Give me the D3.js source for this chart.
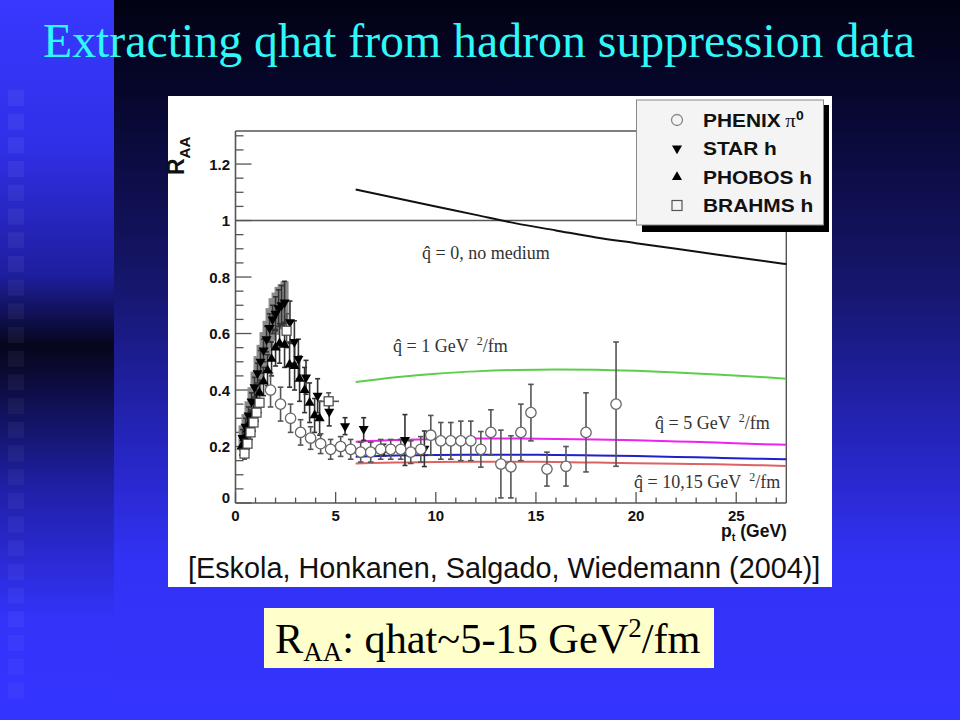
<!DOCTYPE html>
<html><head><meta charset="utf-8">
<script src="https://cdn.jsdelivr.net/npm/d3@7"></script>
<style>html,body{margin:0;padding:0;background:#000;}svg{display:block;}</style>
</head><body>
<svg id="c" width="960" height="720"></svg>
<script>
// ---------- data ----------
const titleText = "Extracting qhat from hadron suppression data";
const xTicks = [0, 5, 10, 15, 20, 25];
const yTicks = [0, 0.2, 0.4, 0.6, 0.8, 1, 1.2];
const yTickLabels = ["0", "0.2", "0.4", "0.6", "0.8", "1", "1.2"];

const curvePt   = [6, 8, 10, 12, 14, 16, 18, 20, 22, 24, 26, 27.5];
const noMedium  = [1.11, 1.08, 1.05, 1.02, 0.99, 0.965, 0.94, 0.92, 0.90, 0.88, 0.86, 0.846];
const qhat1     = [0.428, 0.445, 0.458, 0.466, 0.471, 0.473, 0.472, 0.468, 0.462, 0.455, 0.447, 0.440];
const qhat5     = [0.217, 0.223, 0.226, 0.228, 0.228, 0.227, 0.225, 0.222, 0.218, 0.214, 0.209, 0.206];
const qhat10    = [0.164, 0.168, 0.170, 0.171, 0.171, 0.170, 0.168, 0.166, 0.163, 0.160, 0.157, 0.155];
const qhat15    = [0.140, 0.143, 0.145, 0.146, 0.146, 0.145, 0.143, 0.141, 0.139, 0.137, 0.134, 0.131];

const phenixPt  = [1.75, 2.25, 2.75, 3.25, 3.75, 4.25, 4.75, 5.25, 5.75, 6.25, 6.75, 7.25, 7.75, 8.25, 8.75, 9.25, 9.75, 10.25, 10.75, 11.25, 11.75, 12.25, 12.75, 13.25, 13.75, 14.25, 14.75, 15.55, 16.5, 17.5, 19.0];
const phenixR   = [0.40, 0.35, 0.30, 0.25, 0.23, 0.21, 0.19, 0.20, 0.19, 0.18, 0.18, 0.19, 0.19, 0.19, 0.18, 0.19, 0.24, 0.22, 0.22, 0.22, 0.22, 0.19, 0.25, 0.138, 0.128, 0.25, 0.32, 0.12, 0.13, 0.25, 0.35];
const phenixErr = [0.06, 0.06, 0.05, 0.045, 0.04, 0.035, 0.035, 0.035, 0.035, 0.035, 0.035, 0.035, 0.035, 0.035, 0.04, 0.045, 0.07, 0.065, 0.065, 0.07, 0.07, 0.063, 0.08, 0.12, 0.11, 0.10, 0.10, 0.06, 0.07, 0.14, 0.22];

const starPt    = [0.35, 0.5, 0.65, 0.8, 0.95, 1.1, 1.25, 1.4, 1.55, 1.7, 1.85, 2.0, 2.15, 2.3, 2.45, 2.72, 2.94, 3.14, 3.52, 4.1, 4.68, 5.47, 6.4, 7.41, 8.46, 9.43];
const starR     = [0.23, 0.27, 0.31, 0.36, 0.41, 0.46, 0.50, 0.54, 0.58, 0.62, 0.65, 0.67, 0.69, 0.70, 0.71, 0.64, 0.57, 0.51, 0.445, 0.38, 0.323, 0.272, 0.262, 0.188, 0.223, 0.192];
const starErr   = [0.03, 0.03, 0.03, 0.03, 0.035, 0.035, 0.04, 0.04, 0.045, 0.05, 0.05, 0.06, 0.065, 0.07, 0.075, 0.075, 0.075, 0.07, 0.06, 0.06, 0.05, 0.03, 0.04, 0.02, 0.09, 0.063];
const starSys   = [0.045, 0.045, 0.05, 0.05, 0.055, 0.06, 0.06, 0.065, 0.065, 0.07, 0.075, 0.075, 0.075, 0.075, 0.075, 0, 0, 0, 0, 0, 0, 0, 0, 0, 0, 0];

const phobosPt  = [0.3, 0.45, 0.6, 0.75, 0.9, 1.05, 1.2, 1.4, 1.6, 1.8, 2.0, 2.2, 2.45, 2.7, 2.95, 3.2, 3.45, 3.7, 3.95, 4.2];
const phobosR   = [0.20, 0.23, 0.26, 0.29, 0.32, 0.36, 0.39, 0.43, 0.47, 0.51, 0.55, 0.565, 0.56, 0.49, 0.485, 0.44, 0.40, 0.355, 0.31, 0.30];
const phobosErr = [0.03, 0.03, 0.035, 0.035, 0.04, 0.04, 0.045, 0.05, 0.055, 0.06, 0.065, 0.07, 0.08, 0.08, 0.085, 0.08, 0.08, 0.07, 0.06, 0.06];

const brahmsPt  = [0.45, 0.6, 0.75, 0.9, 1.05, 1.2, 2.55, 4.65];
const brahmsR   = [0.175, 0.21, 0.25, 0.285, 0.32, 0.355, 0.61, 0.36];
const brahmsErr = [0.02, 0.02, 0.025, 0.03, 0.03, 0.035, 0.06, 0.03];
const brahmsPtErr = [0, 0, 0, 0, 0, 0, 0, 0.52];

const legendLabels = ["PHENIX", "STAR h", "PHOBOS h", "BRAHMS h"];

// ---------- drawing ----------
const svg = d3.select("#c");
const defs = svg.append("defs");

const gR = defs.append("linearGradient").attr("id", "bgR").attr("x1", 0).attr("y1", 0).attr("x2", 0).attr("y2", 1);
[[0, "#020214"], [0.12, "#06062a"], [0.4, "#16166e"], [0.62, "#2525bf"], [0.78, "#3232f6"], [1, "#3434ff"]]
  .forEach(s => gR.append("stop").attr("offset", s[0]).attr("stop-color", s[1]));
const gL = defs.append("linearGradient").attr("id", "bgL").attr("x1", 0).attr("y1", 0).attr("x2", 0).attr("y2", 1);
[[0, "#3838ff"], [0.2, "#3030e8"], [0.38, "#1e1ea0"], [0.48, "#06061c"], [0.52, "#0a0a36"], [0.68, "#2020a8"], [0.86, "#3333fa"], [1, "#3434ff"]]
  .forEach(s => gL.append("stop").attr("offset", s[0]).attr("stop-color", s[1]));

svg.append("rect").attr("x", 0).attr("y", 0).attr("width", 960).attr("height", 720).attr("fill", "url(#bgR)");
svg.append("rect").attr("x", 0).attr("y", 0).attr("width", 114).attr("height", 720).attr("fill", "url(#bgL)");

const sqY = d3.range(90, 690, 23.7);
svg.append("g").selectAll("rect").data(sqY).join("rect")
  .attr("x", 8).attr("y", d => d).attr("width", 16).attr("height", 16)
  .attr("fill", "#ffffff").attr("opacity", (d, i) => 0.055 - i * 0.0008);

// title
svg.append("text").attr("x", 43).attr("y", 57)
  .attr("font-family", "Liberation Serif, Times New Roman, serif").attr("font-size", 47.8)
  .attr("fill", "#2ff8f8").text(titleText);

// panel
svg.append("rect").attr("x", 168).attr("y", 96).attr("width", 664).attr("height", 491).attr("fill", "#ffffff");

const x = d3.scaleLinear().domain([0, 27.5]).range([235.5, 786.3]);
const y = d3.scaleLinear().domain([0, 1.317]).range([503, 131]);
const axisCol = "#555";
const g = svg.append("g");

// frame
g.append("line").attr("x1", x(0)).attr("x2", x(27.5)).attr("y1", y(0)).attr("y2", y(0)).attr("stroke", axisCol).attr("stroke-width", 1.6);
g.append("line").attr("x1", x(0)).attr("x2", x(0)).attr("y1", y(0)).attr("y2", y(1.317)).attr("stroke", axisCol).attr("stroke-width", 1.6);
g.append("line").attr("x1", x(0)).attr("x2", 640).attr("y1", y(1.317)).attr("y2", y(1.317)).attr("stroke", axisCol).attr("stroke-width", 1.4);
g.append("line").attr("x1", x(27.5)).attr("x2", x(27.5)).attr("y1", 228).attr("y2", y(0)).attr("stroke", axisCol).attr("stroke-width", 1.4);
g.append("line").attr("x1", x(0)).attr("x2", 640).attr("y1", y(1)).attr("y2", y(1)).attr("stroke", axisCol).attr("stroke-width", 1.4);

// y ticks
const yMinor = d3.range(0, 1.3001, 0.05);
g.append("g").selectAll("line").data(yMinor).join("line")
  .attr("x1", x(0)).attr("x2", (d, i) => x(0) + (i % 4 === 0 ? 16 : 8))
  .attr("y1", d => y(d)).attr("y2", d => y(d)).attr("stroke", axisCol).attr("stroke-width", 1.3);
g.append("g").selectAll("text").data(yTicks).join("text")
  .attr("x", 230).attr("y", (d, i) => y(d) + (i === 0 ? 0 : 5.5)).attr("text-anchor", "end")
  .attr("font-family", "Liberation Sans, Arial, sans-serif").attr("font-weight", "bold").attr("font-size", 15)
  .attr("fill", "#111").text((d, i) => yTickLabels[i]);

// x ticks
const xMinor = d3.range(0, 28, 1);
g.append("g").selectAll("line").data(xMinor).join("line")
  .attr("x1", d => x(d)).attr("x2", d => x(d))
  .attr("y1", y(0)).attr("y2", d => y(0) - (d % 5 === 0 ? 11 : 5.5)).attr("stroke", axisCol).attr("stroke-width", 1.3);
g.append("g").selectAll("text").data(xTicks).join("text")
  .attr("x", d => x(d)).attr("y", 521).attr("text-anchor", "middle")
  .attr("font-family", "Liberation Sans, Arial, sans-serif").attr("font-weight", "bold").attr("font-size", 15)
  .attr("fill", "#111").text(d => d);

// axis titles
const yt = g.append("text").attr("transform", "translate(184,175) rotate(-90)")
  .attr("font-family", "Liberation Sans, Arial, sans-serif").attr("font-weight", "bold").attr("fill", "#111");
yt.append("tspan").attr("font-size", 23).text("R");
yt.append("tspan").attr("font-size", 15).attr("dy", 6).text("AA");

const xt = g.append("text").attr("x", 721).attr("y", 537)
  .attr("font-family", "Liberation Sans, Arial, sans-serif").attr("font-weight", "bold").attr("fill", "#111").attr("font-size", 17.5);
xt.append("tspan").text("p");
xt.append("tspan").attr("font-size", 11).attr("dy", 4).text("t");
xt.append("tspan").attr("dy", -4).text(" (GeV)");

// curves
const line = d3.line().x(d => x(d[0])).y(d => y(d[1])).curve(d3.curveMonotoneX);
const curves = [[noMedium, "#111111"], [qhat1, "#5ccf4a"], [qhat5, "#ee22ee"], [qhat10, "#1f1fcc"], [qhat15, "#dd6262"]];
curves.forEach(c => {
  g.append("path").attr("d", line(curvePt.map((p, i) => [p, c[0][i]])))
    .attr("fill", "none").attr("stroke", c[1]).attr("stroke-width", 2);
});

// curve labels
function qLabel(px, py, rest, sup) {
  const t = g.append("text").attr("x", px).attr("y", py)
    .attr("font-family", "Liberation Serif, Times New Roman, serif").attr("font-size", 18).attr("fill", "#333");
  t.append("tspan").text("q\u0302 = " + rest);
  if (sup) {
    t.append("tspan").attr("font-size", 12).attr("dx", 4).attr("dy", -7).text("2");
    t.append("tspan").attr("dy", 7).text("/fm");
  }
}
qLabel(422, 259, "0, no medium", false);
qLabel(393, 352, "1 GeV ", true);
qLabel(655, 429, "5 GeV ", true);
qLabel(634, 488, "10,15 GeV ", true);

// error bar helper
function errBars(pts, rs, es, col, cap) {
  const d = pts.map((p, i) => ({ p, r: rs[i], e: es[i] }));
  const eg = g.append("g").attr("stroke", col).attr("stroke-width", 1.6);
  eg.selectAll("line.v").data(d).join("line").attr("class", "v")
    .attr("x1", e => x(e.p)).attr("x2", e => x(e.p)).attr("y1", e => y(e.r - e.e)).attr("y2", e => y(e.r + e.e));
  [-1, 1].forEach(s => {
    eg.selectAll("line.c" + (s + 1)).data(d).join("line").attr("class", "c" + (s + 1))
      .attr("x1", e => x(e.p) - cap).attr("x2", e => x(e.p) + cap)
      .attr("y1", e => y(e.r + s * e.e)).attr("y2", e => y(e.r + s * e.e));
  });
}

// STAR systematic boxes
g.append("g").selectAll("rect").data(starPt.map((p, i) => ({ p, r: starR[i], s: starSys[i] })).filter(d => d.s > 0))
  .join("rect").attr("x", d => x(d.p) - 4).attr("width", 8)
  .attr("y", d => y(d.r + d.s)).attr("height", d => y(d.r - d.s) - y(d.r + d.s))
  .attr("fill", "#8a8a8a");

errBars(phobosPt, phobosR, phobosErr, "#333", 2.5);
errBars(starPt, starR, starErr, "#333", 2.5);
errBars(phenixPt, phenixR, phenixErr, "#555", 2.8);
errBars(brahmsPt, brahmsR, brahmsErr, "#555", 2.5);
// BRAHMS horizontal errors
g.append("g").selectAll("line").data(brahmsPt.map((p, i) => ({ p, r: brahmsR[i], e: brahmsPtErr[i] })).filter(d => d.e > 0))
  .join("line").attr("x1", d => x(d.p - d.e)).attr("x2", d => x(d.p + d.e))
  .attr("y1", d => y(d.r)).attr("y2", d => y(d.r)).attr("stroke", "#555").attr("stroke-width", 1.6);

const tri = d3.symbol().type(d3.symbolTriangle).size(44);
// PHOBOS up triangles
g.append("g").selectAll("path").data(phobosPt.map((p, i) => [p, phobosR[i]])).join("path")
  .attr("d", tri).attr("transform", d => `translate(${x(d[0])},${y(d[1])})`).attr("fill", "#000");
// STAR down triangles
g.append("g").selectAll("path").data(starPt.map((p, i) => [p, starR[i]])).join("path")
  .attr("d", tri).attr("transform", d => `translate(${x(d[0])},${y(d[1])}) rotate(180)`).attr("fill", "#000");
// PHENIX circles
g.append("g").selectAll("circle").data(phenixPt.map((p, i) => [p, phenixR[i]])).join("circle")
  .attr("cx", d => x(d[0])).attr("cy", d => y(d[1])).attr("r", 5.2)
  .attr("fill", "#fff").attr("stroke", "#666").attr("stroke-width", 1.3);
// BRAHMS squares
g.append("g").selectAll("rect").data(brahmsPt.map((p, i) => [p, brahmsR[i]])).join("rect")
  .attr("x", d => x(d[0]) - 4.5).attr("y", d => y(d[1]) - 4.5).attr("width", 9).attr("height", 9)
  .attr("fill", "#fff").attr("stroke", "#444").attr("stroke-width", 1.2);

// legend
const lg = svg.append("g");
lg.append("rect").attr("x", 642).attr("y", 105).attr("width", 187).attr("height", 127).attr("fill", "#000");
lg.append("rect").attr("x", 636.5).attr("y", 100).attr("width", 187).attr("height", 125)
  .attr("fill", "#f4f4f4").attr("stroke", "#888").attr("stroke-width", 1);
const rowY = [120, 148.5, 177, 205.5];
lg.append("circle").attr("cx", 677).attr("cy", rowY[0]).attr("r", 5.5).attr("fill", "none").attr("stroke", "#888").attr("stroke-width", 1.3);
lg.append("path").attr("d", tri).attr("transform", `translate(677,${rowY[1]}) rotate(180)`).attr("fill", "#000");
lg.append("path").attr("d", tri).attr("transform", `translate(677,${rowY[2]})`).attr("fill", "#000");
lg.append("rect").attr("x", 672).attr("y", rowY[3] - 5).attr("width", 10).attr("height", 10).attr("fill", "none").attr("stroke", "#555").attr("stroke-width", 1.2);
legendLabels.forEach((l, i) => {
  const t = lg.append("text").attr("transform", `translate(703,${rowY[i] + 6.5}) scale(1.16,1)`)
    .attr("font-family", "Liberation Sans, Arial, sans-serif").attr("font-weight", "bold").attr("font-size", 18).attr("fill", "#111");
  t.append("tspan").text(l);
  if (i === 0) {
    t.append("tspan").attr("font-family", "Liberation Serif, serif").attr("font-weight", "normal").attr("dx", 4).text("\u03c0");
    t.append("tspan").attr("font-size", 12).attr("dy", -7).text("0");
  }
});

// citation
svg.append("text").attr("x", 188).attr("y", 578)
  .attr("font-family", "Liberation Sans, Arial, sans-serif").attr("font-size", 28.8).attr("fill", "#111")
  .text("[Eskola, Honkanen, Salgado, Wiedemann (2004)]");

// bottom caption
svg.append("rect").attr("x", 264).attr("y", 608).attr("width", 450).attr("height", 60).attr("fill", "#ffffcc");
const cap = svg.append("text").attr("x", 275).attr("y", 653)
  .attr("font-family", "Liberation Serif, Times New Roman, serif").attr("font-size", 42.3).attr("fill", "#000");
cap.append("tspan").text("R");
cap.append("tspan").attr("font-size", 27).attr("dy", 8).text("AA");
cap.append("tspan").attr("dy", -8).text(": qhat~5-15 GeV");
cap.append("tspan").attr("font-size", 27).attr("dy", -16).text("2");
cap.append("tspan").attr("dy", 16).text("/fm");
</script>
</body></html>
